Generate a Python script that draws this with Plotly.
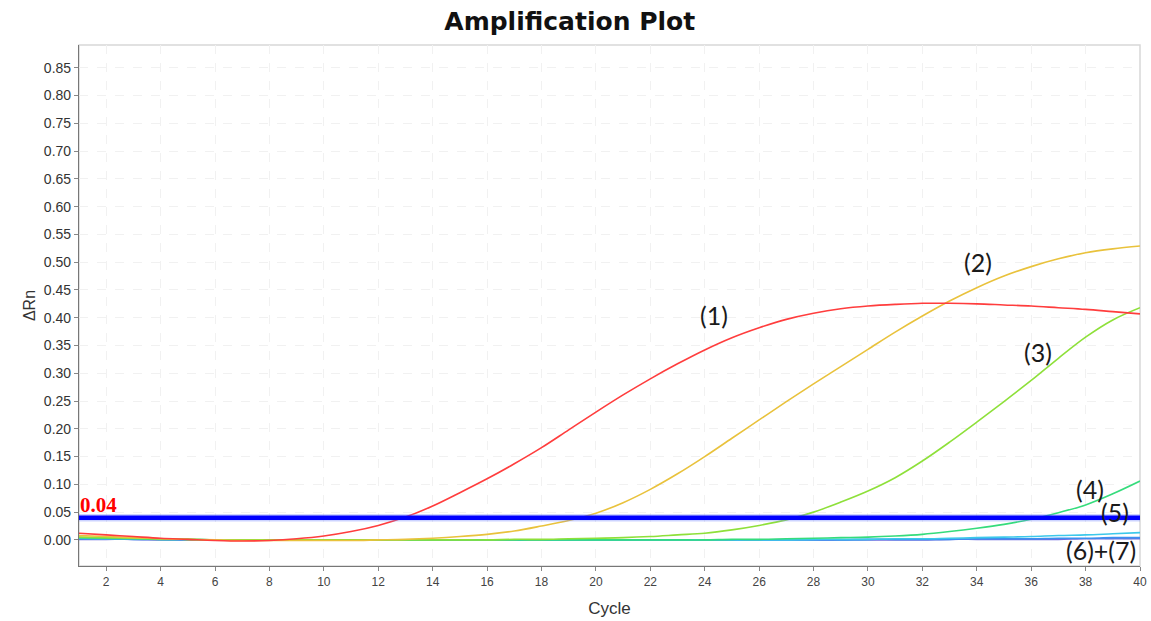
import plotly.graph_objects as go

# qPCR amplification curves: delta Rn per cycle for seven reactions
cycles = list(range(1, 41))

rn_1 = [0.012, 0.009, 0.006, 0.003, 0.001, -0.001, -0.002, -0.001, 0.002, 0.007,
        0.015, 0.026, 0.041, 0.061, 0.085, 0.110, 0.137, 0.166, 0.198, 0.230,
        0.261, 0.290, 0.317, 0.342, 0.364, 0.382, 0.397, 0.408, 0.416, 0.421,
        0.424, 0.426, 0.426, 0.425, 0.423, 0.421, 0.418, 0.415, 0.411, 0.407]

rn_2 = [0.008, 0.006, 0.004, 0.002, 0.001, 0.000, -0.001, -0.001, -0.001, -0.001,
        -0.001, 0.000, 0.001, 0.003, 0.006, 0.010, 0.016, 0.025, 0.035, 0.048,
        0.067, 0.091, 0.119, 0.150, 0.183, 0.216, 0.249, 0.281, 0.312, 0.343,
        0.374, 0.403, 0.430, 0.454, 0.475, 0.492, 0.506, 0.517, 0.524, 0.529]

rn_3 = [0.005, 0.004, 0.003, 0.002, 0.001, 0.000, 0.000, 0.000, 0.000, 0.000,
        0.000, 0.000, 0.000, 0.000, 0.000, 0.000, 0.001, 0.001, 0.002, 0.003,
        0.004, 0.006, 0.009, 0.012, 0.018, 0.026, 0.036, 0.050, 0.068, 0.088,
        0.112, 0.142, 0.176, 0.212, 0.249, 0.287, 0.327, 0.365, 0.396, 0.418]

rn_4 = [0.004, 0.003, 0.002, 0.001, 0.001, 0.000, 0.000, 0.000, 0.000, 0.000,
        0.000, 0.000, 0.000, 0.000, 0.000, 0.000, 0.000, 0.000, 0.000, 0.000,
        0.000, 0.000, 0.000, 0.000, 0.001, 0.001, 0.002, 0.003, 0.004, 0.005,
        0.007, 0.010, 0.015, 0.021, 0.028, 0.037, 0.049, 0.063, 0.083, 0.106]

rn_5 = [0.003, 0.002, 0.002, 0.001, 0.001, 0.000, 0.000, 0.000, 0.000, 0.000,
        0.000, 0.000, 0.000, 0.000, 0.000, 0.000, 0.000, 0.000, 0.000, 0.000,
        0.000, 0.000, 0.000, 0.000, 0.000, 0.000, 0.000, 0.001, 0.001, 0.001,
        0.002, 0.002, 0.003, 0.004, 0.005, 0.006, 0.008, 0.009, 0.011, 0.013]

rn_6 = [0.002, 0.002, 0.001, 0.001, 0.000, 0.000, 0.000, 0.000, 0.000, 0.000,
        0.000, 0.000, 0.000, 0.000, 0.000, 0.000, 0.000, 0.000, 0.000, 0.000,
        0.000, 0.000, 0.000, 0.000, 0.000, 0.000, 0.000, 0.000, 0.000, 0.001,
        0.001, 0.001, 0.001, 0.002, 0.002, 0.002, 0.003, 0.003, 0.004, 0.004]

rn_7 = [0.001, 0.001, 0.001, 0.000, 0.000, 0.000, 0.000, 0.000, 0.000, 0.000,
        0.000, 0.000, 0.000, 0.000, 0.000, 0.000, 0.000, 0.000, 0.000, 0.000,
        0.000, 0.000, 0.000, 0.000, 0.000, 0.000, 0.000, 0.000, 0.000, 0.000,
        0.000, 0.000, 0.001, 0.001, 0.001, 0.001, 0.001, 0.002, 0.002, 0.002]

series = [rn_7, rn_6, rn_5, rn_4, rn_3, rn_2, rn_1]
colors = ["#6f6ee0", "#3a90f0", "#3cc8ea", "#35dc7c", "#8ee03a", "#e9c23c", "#ff3d3d"]

threshold = 0.04

x_ticks = list(range(2, 41, 2))
y_ticks = [i * 0.05 for i in range(0, 18)]

# curve labels: text, cycle, delta Rn
label_text = ["(1)", "(2)", "(3)", "(4)", "(5)", "(6)+(7)"]
label_x = [24.35, 34.05, 36.25, 38.17, 39.08, 38.57]
label_y = [0.405, 0.500, 0.339, 0.092, 0.050, -0.018]

fig = go.Figure()

for vals, col in zip(series, colors):
    fig.add_trace(go.Scatter(
        x=cycles, y=vals, mode="lines",
        line=dict(color=col, width=1.6, shape="spline", smoothing=1.0),
        showlegend=False, hoverinfo="skip",
    ))

# threshold line with a soft halo
fig.add_shape(type="line", xref="x", yref="y", x0=1, x1=40, y0=threshold, y1=threshold,
              line=dict(color="rgba(110,130,255,0.35)", width=7.5))
fig.add_shape(type="line", xref="x", yref="y", x0=1, x1=40, y0=threshold, y1=threshold,
              line=dict(color="#0000ff", width=4.5))

fig.add_annotation(
    x=1, y=threshold, xref="x", yref="y", text="<b>%.2f</b>" % threshold,
    showarrow=False, xanchor="left", yanchor="bottom", yshift=-1, xshift=-1,
    font=dict(family="Liberation Serif, Times New Roman, serif", size=21, color="#ff0000"),
)

for t, lx, ly in zip(label_text, label_x, label_y):
    fig.add_annotation(
        x=lx, y=ly, xref="x", yref="y", text=t, showarrow=False,
        xanchor="center", yanchor="middle",
        font=dict(family="Lato", size=25, color="#1a1a1a"),
    )

# light frame around plotting area (top and right edges)
fig.add_shape(type="rect", xref="paper", yref="paper", x0=0, x1=1, y0=0, y1=1,
              line=dict(color="#d8d8d8", width=1.5), layer="below")

fig.update_layout(
    width=1151, height=621,
    margin=dict(l=79, r=11, t=45, b=55, autoexpand=False),
    paper_bgcolor="white", plot_bgcolor="white",
    title=dict(
        text="<b>Amplification Plot</b>", x=0.495, xanchor="center",
        y=0.965, yanchor="middle",
        font=dict(family="DejaVu Sans", size=25, color="#111111"),
    ),
    xaxis=dict(
        range=[1, 40], tickvals=x_ticks, ticktext=[str(v) for v in x_ticks],
        showline=True, linecolor="#777777", linewidth=1.2,
        ticks="outside", ticklen=4, tickcolor="#888888",
        showgrid=True, gridcolor="#f1f1f1", griddash="dash", gridwidth=1,
        zeroline=False, automargin=False,
        tickfont=dict(family="Liberation Sans", size=12, color="#444444"),
        title=dict(text="Cycle", font=dict(family="Liberation Sans", size=17, color="#333333"),
                   standoff=14),
    ),
    yaxis=dict(
        range=[-0.047, 0.891], tickvals=y_ticks, ticktext=["%.2f" % v for v in y_ticks],
        showline=True, linecolor="#777777", linewidth=1.2,
        ticks="outside", ticklen=4, tickcolor="#888888",
        showgrid=True, gridcolor="#f1f1f1", griddash="dash", gridwidth=1,
        zeroline=False, automargin=False,
        tickfont=dict(family="Liberation Sans", size=14, color="#333333"),
        title=dict(text="ΔRn", font=dict(family="Liberation Sans", size=16, color="#333333"),
                   standoff=4),
    ),
)

fig.write_html("out.html")
